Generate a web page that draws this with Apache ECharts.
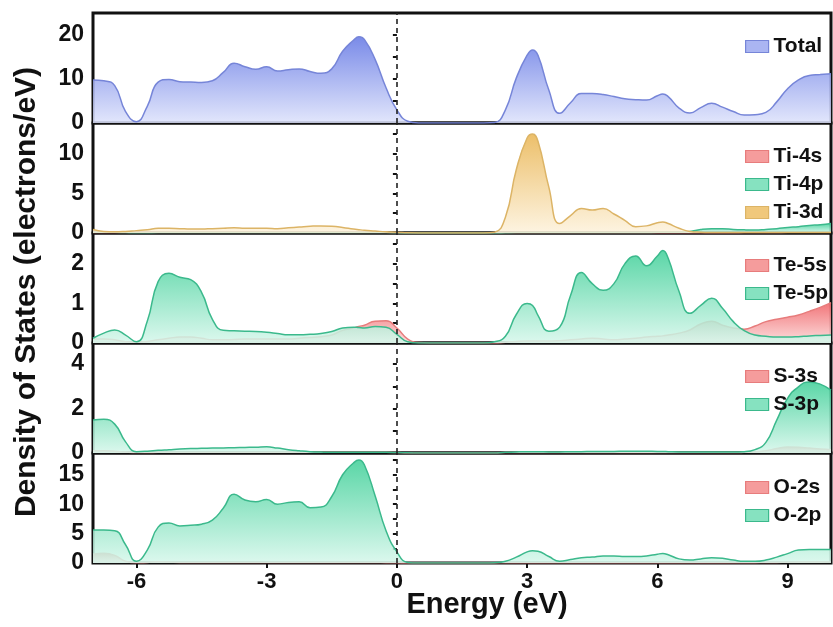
<!DOCTYPE html>
<html><head><meta charset="utf-8">
<script src="https://cdn.jsdelivr.net/npm/echarts@6/dist/echarts.min.js"></script>
<style>html,body{margin:0;padding:0;background:#fff}#c{width:833px;height:627px}</style>
</head><body><div id="c"></div>
<script>
// Energy grid (eV)
const energies = [-7,-6.75,-6.5,-6.25,-6,-5.75,-5.5,-5.25,-5,-4.75,
  -4.5,-4.25,-4,-3.75,-3.5,-3.25,-3,-2.75,-2.5,-2.25,
  -2,-1.75,-1.5,-1.25,-1,-0.875,-0.75,-0.5,-0.25,0,0.25,
  0.5,0.75,1,1.25,1.5,1.75,2,2.25,2.5,2.75,
  3,3.125,3.25,3.5,3.75,4,4.25,4.5,4.75,5,5.25,
  5.5,5.75,6,6.125,6.25,6.5,6.75,7,7.25,7.5,7.75,
  8,8.25,8.5,8.75,9,9.25,9.5,9.75,10];

const total = [9.8,9.6,8.5,2.6,0.3,3.8,9.3,9.9,9.4,9.3,
  9.2,9.6,11.5,13.6,12.8,12.2,12.8,11.8,12.1,12.3,
  11.7,11.3,12.3,16.3,18.8,19.6,19.0,14.4,8.0,3.0,0.4,
  0,0,0,0,0,0,0,0.1,3.0,10.2,
  15.4,16.6,15.4,7.5,2.2,4.6,6.7,6.7,6.5,6.0,5.5,
  5.3,5.2,6.2,6.6,6.0,3.4,2.3,3.5,4.5,3.6,2.6,
  1.8,1.9,2.4,4.8,7.8,9.8,10.8,11.0,11.2];

const ti4s = [0.05,0.05,0.05,0.05,0.05,0.05,0.05,0.05,0.05,0.05,
  0.05,0.05,0.05,0.05,0.05,0.05,0.05,0.05,0.05,0.05,
  0.05,0.05,0.05,0.05,0.05,0.05,0.05,0.05,0.05,0.02,0,
  0,0,0,0,0,0,0,0,0.02,0.03,
  0.03,0.03,0.03,0.03,0.03,0.03,0.03,0.03,0.03,0.03,0.03,
  0.03,0.03,0.03,0.03,0.03,0.03,0.03,0.03,0.03,0.03,0.03,
  0.05,0.05,0.06,0.07,0.08,0.08,0.09,0.1,0.1];

const ti4p = [0.1,0.1,0.08,0.05,0.03,0.04,0.05,0.05,0.05,0.05,
  0.05,0.05,0.05,0.05,0.05,0.05,0.05,0.05,0.05,0.05,
  0.05,0.05,0.05,0.05,0.05,0.05,0.05,0.05,0.05,0.03,0,
  0,0,0,0,0,0,0,0,0.03,0.05,
  0.05,0.05,0.05,0.05,0.05,0.05,0.05,0.05,0.05,0.06,0.06,
  0.06,0.07,0.08,0.08,0.08,0.1,0.2,0.45,0.55,0.55,0.45,
  0.4,0.38,0.45,0.55,0.7,0.8,0.95,1.05,1.2];

const ti3d = [0.45,0.2,0.15,0.2,0.3,0.4,0.6,0.6,0.55,0.5,
  0.5,0.55,0.6,0.65,0.6,0.6,0.6,0.55,0.65,0.75,
  0.85,0.9,0.85,0.7,0.5,0.42,0.35,0.25,0.15,0.1,0.02,
  0,0,0,0,0,0,0,0.1,2.0,8.0,
  12.0,12.5,11.6,5.8,1.2,2.2,3.1,2.9,3.1,2.4,1.6,
  0.8,0.9,1.3,1.4,1.2,0.6,0.2,0.1,0.06,0.05,0.05,
  0.05,0.05,0.05,0.05,0.05,0.05,0.05,0.05,0.05];

const te5s = [0.1,0.1,0.08,0.03,0.02,0.04,0.08,0.12,0.15,0.15,
  0.12,0.08,0.08,0.09,0.1,0.1,0.1,0.1,0.1,0.12,
  0.14,0.16,0.2,0.32,0.38,0.42,0.45,0.55,0.56,0.38,0.1,
  0.01,0,0,0,0,0,0,0,0.02,0.04,
  0.05,0.05,0.05,0.05,0.06,0.08,0.1,0.12,0.1,0.08,0.1,
  0.12,0.15,0.17,0.18,0.2,0.25,0.33,0.48,0.55,0.45,0.38,
  0.35,0.43,0.54,0.6,0.65,0.71,0.8,0.9,1.02];

const te5p = [0.12,0.25,0.33,0.2,0.03,0.55,1.55,1.76,1.66,1.6,
  1.28,0.6,0.32,0.31,0.3,0.29,0.27,0.24,0.21,0.21,
  0.22,0.24,0.29,0.38,0.4,0.39,0.38,0.42,0.4,0.22,0.03,
  0,0,0,0,0,0,0,0.03,0.17,0.72,
  1.0,0.95,0.7,0.3,0.4,1.2,1.78,1.5,1.33,1.5,2.0,
  2.2,1.95,2.2,2.34,2.14,1.3,0.75,0.95,1.13,0.88,0.54,
  0.31,0.2,0.17,0.15,0.15,0.16,0.18,0.19,0.2];

const s3s = [0.1,0.1,0.08,0.04,0.02,0.02,0.03,0.03,0.03,0.03,
  0.03,0.03,0.03,0.03,0.03,0.03,0.03,0.03,0.03,0.03,
  0.03,0.03,0.03,0.03,0.03,0.03,0.03,0.03,0.03,0.02,0,
  0,0,0,0,0,0,0,0,0.02,0.02,
  0.02,0.02,0.02,0.02,0.02,0.02,0.02,0.02,0.02,0.02,0.02,
  0.02,0.02,0.02,0.02,0.02,0.02,0.02,0.02,0.02,0.02,0.02,
  0.03,0.05,0.1,0.2,0.27,0.26,0.22,0.18,0.15];

const s3p = [1.48,1.52,1.3,0.5,0.06,0.08,0.12,0.15,0.18,0.2,
  0.21,0.22,0.23,0.24,0.25,0.26,0.28,0.22,0.15,0.1,
  0.06,0.04,0.03,0.03,0.03,0.03,0.03,0.03,0.03,0.02,0.01,
  0,0,0,0,0,0,0,0,0.03,0.05,
  0.06,0.06,0.06,0.05,0.05,0.06,0.06,0.07,0.07,0.07,0.08,
  0.08,0.08,0.07,0.07,0.06,0.05,0.05,0.05,0.05,0.05,0.05,
  0.06,0.15,0.48,1.48,2.46,2.98,3.2,3.1,2.83];

const o2s = [1.5,1.65,1.3,0.3,0.03,0.1,0.2,0.15,0.1,0.1,
  0.1,0.1,0.1,0.1,0.1,0.1,0.1,0.1,0.1,0.1,
  0.1,0.1,0.1,0.1,0.1,0.1,0.1,0.08,0.06,0.04,0,
  0,0,0,0,0,0,0,0,0.05,0.05,
  0.05,0.05,0.05,0.05,0.05,0.05,0.05,0.05,0.05,0.05,0.05,
  0.05,0.05,0.05,0.05,0.05,0.05,0.05,0.05,0.05,0.05,0.05,
  0.05,0.06,0.08,0.1,0.12,0.15,0.15,0.15,0.15];

const o2p = [5.6,5.6,5.5,3.1,0.3,2.2,6.1,6.8,6.3,6.4,
  6.6,7.3,9.3,11.7,10.7,10.4,10.8,10.0,10.3,10.4,
  9.4,9.5,11.3,15.0,17.0,17.5,16.7,11.4,5.5,1.9,0.1,
  0,0,0,0,0,0,0,0.05,0.3,1.0,
  1.9,2.1,2.0,1.1,0.3,0.6,0.9,1.0,1.2,1.2,1.1,
  1.1,1.2,1.5,1.6,1.4,0.7,0.5,0.7,0.9,0.8,0.5,
  0.3,0.3,0.5,1.0,1.6,2.2,2.3,2.3,2.3];

const xTickValues = [-6,-3,0,3,6,9];
const panelMax = [25, 13.9, 2.78, 4.95, 18.7];
const panelLabels = [[0,10,20],[0,5,10],[0,1,2],[0,2,4],[0,5,10,15]];
const panelTicks = [[0,5,10,15,20],[0,2.5,5,7.5,10,12.5],[0,0.5,1,1.5,2,2.5],[0,1,2,3,4],[0,2.5,5,7.5,10,12.5,15,17.5]];
const panelSeries = [
  [['Total', total, 'blue']],
  [['Ti-4s', ti4s, 'red'], ['Ti-4p', ti4p, 'green'], ['Ti-3d', ti3d, 'gold']],
  [['Te-5s', te5s, 'red'], ['Te-5p', te5p, 'green']],
  [['S-3s', s3s, 'red'], ['S-3p', s3p, 'green']],
  [['O-2s', o2s, 'red'], ['O-2p', o2p, 'green']]
];

const palette = {
  blue:  {line:'#7685d8', top:'#6276e4', bottom:'#dde2fb', icon:'#aab5f2'},
  red:   {line:'#e77c7c', top:'#f0666a', bottom:'#fcdada', icon:'#f59c9c'},
  green: {line:'#3bb98c', top:'#3dcf97', bottom:'#d6f7eb', icon:'#86e2c0'},
  gold:  {line:'#dcb466', top:'#e9b450', bottom:'#fdf2dc', icon:'#f0c87c'}
};

const chart = echarts.init(document.getElementById('c'), null, {renderer:'canvas'});
const font = '"Liberation Sans", Arial, sans-serif';
const grids = [], xAxes = [], yAxes = [], series = [], legends = [];
const tops = [13, 123, 233, 343, 453];
const legendTops = [31, 141, 250, 361, 472];

panelSeries.forEach((list, p) => {
  grids.push({left: 93, right: 2, top: tops[p], height: 110, show: true,
    borderColor: '#111', borderWidth: 3, backgroundColor: 'transparent'});
  const last = p === 4;
  xAxes.push({type: 'value', gridIndex: p, min: -7, max: 10,
    axisLine: {show: false}, splitLine: {show: false},
    axisTick: {show: last, customValues: xTickValues, inside: false, length: 5, lineStyle: {color: '#111', width: 2}},
    axisLabel: {show: last, customValues: xTickValues, margin: 8, color: '#111',
      fontFamily: font, fontWeight: 'bold', fontSize: 22}});
  yAxes.push({type: 'value', gridIndex: p, min: 0, max: panelMax[p],
    axisLine: {show: false}, splitLine: {show: false},
    axisTick: {show: true, customValues: panelTicks[p], length: 4, lineStyle: {color: '#111', width: 2}},
    axisLabel: {customValues: panelLabels[p], margin: 9, color: '#111',
      fontFamily: font, fontWeight: 'bold', fontSize: 23}});
  list.forEach(([name, vals, col], k) => {
    const c = palette[col];
    const s = {
      name, type: 'line', xAxisIndex: p, yAxisIndex: p,
      data: energies.map((e, i) => [e, vals[i]]),
      smooth: 0.5, showSymbol: false, symbol: 'none',
      lineStyle: {color: c.line, width: 1.5},
      itemStyle: {color: c.icon},
      areaStyle: {opacity: col === 'red' ? 0.9 : 0.85,
        color: new echarts.graphic.LinearGradient(0, 0, 0, 1, [
          {offset: 0, color: c.top}, {offset: 1, color: c.bottom}])},
      z: 2 + k
    };
    if (k === 0) {
      s.markLine = {silent: true, symbol: ['none', 'none'], label: {show: false},
        lineStyle: {type: [5, 4], color: '#222', width: 1.6}, z: 10,
        data: [{xAxis: 0}]};
    }
    series.push(s);
  });
  legends.push({orient: 'vertical', left: 740, top: legendTops[p], itemGap: 7,
    itemWidth: 23, itemHeight: 12, icon: 'rect', selectedMode: false,
    textStyle: {fontFamily: font, fontWeight: 'bold', fontSize: 21, color: '#111'},
    data: list.map(([name, , col]) => ({name,
      itemStyle: {color: palette[col].icon, borderColor: palette[col].line, borderWidth: 1.2}}))});
});

chart.setOption({
  animation: false,
  backgroundColor: '#fff',
  grid: grids, xAxis: xAxes, yAxis: yAxes, series, legend: legends,
  graphic: [
    {type: 'text', x: 27, y: 292, rotation: Math.PI / 2,
      style: {text: 'Density of States (electrons/eV)', fill: '#111', textAlign: 'center', textVerticalAlign: 'middle',
        font: 'bold 30px ' + font}},
    {type: 'text', x: 487, y: 605,
      style: {text: 'Energy (eV)', fill: '#111', textAlign: 'center', textVerticalAlign: 'middle',
        font: 'bold 29px ' + font}}
  ]
});
</script></body></html>
